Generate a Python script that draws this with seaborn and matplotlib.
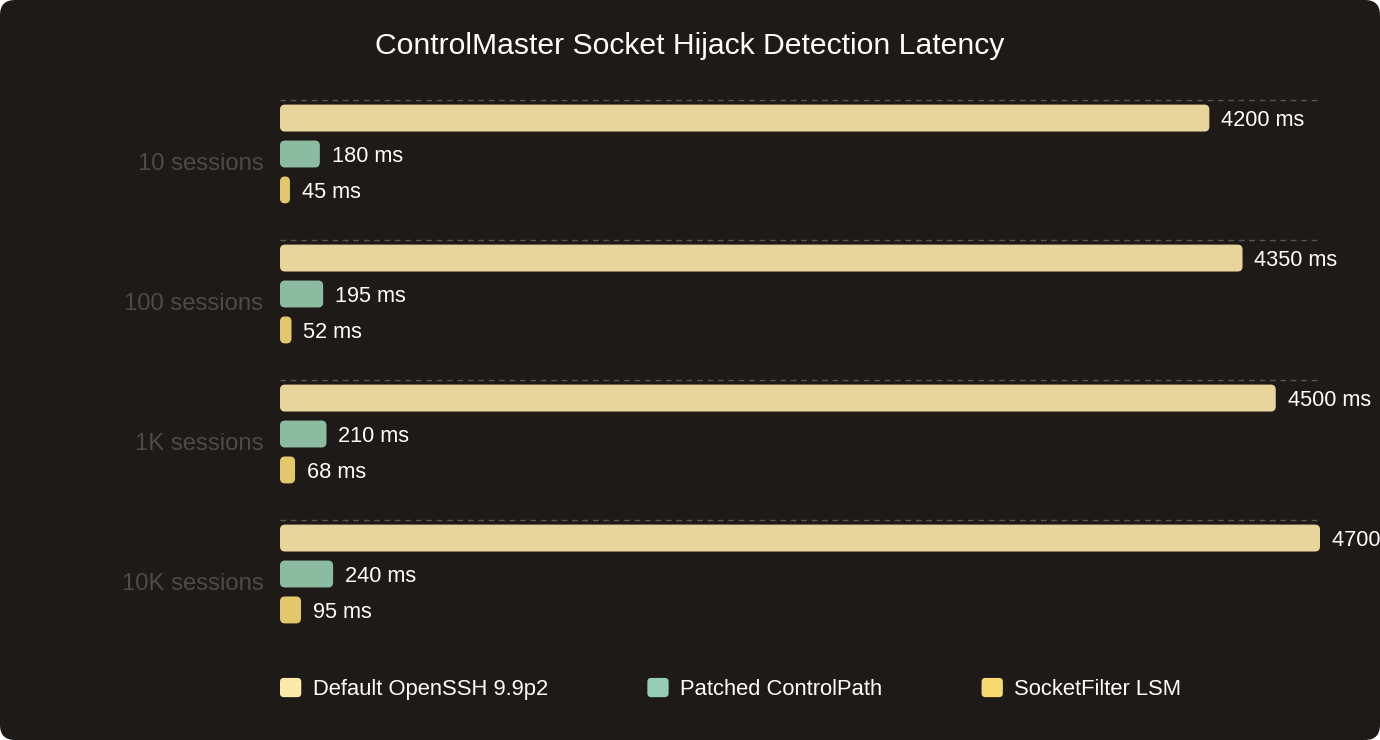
import matplotlib.pyplot as plt
import seaborn as sns
import pandas as pd
from matplotlib.patches import FancyBboxPatch
from matplotlib.legend_handler import HandlerPatch
from matplotlib.transforms import ScaledTranslation, IdentityTransform

categories = ['10 sessions', '100 sessions', '1K sessions', '10K sessions']
series = ['Default OpenSSH 9.9p2', 'Patched ControlPath', 'SocketFilter LSM']
default_ms = [4200, 4350, 4500, 4700]
patched_ms = [180, 195, 210, 240]
lsm_ms = [45, 52, 68, 95]

bar_colors = ['#e8d59b', '#8bbca2', '#e2c86a']
legend_colors = ['#fde9a9', '#97cdb4', '#f6d96f']
bg = '#1e1a17'

df = pd.DataFrame({
    'session': categories * 3,
    'series': [s for s in series for _ in categories],
    'ms': default_ms + patched_ms + lsm_ms,
})

sns.set_theme(style='dark')
plt.rcParams['font.family'] = ['Liberation Sans', 'DejaVu Sans']

fig = plt.figure(figsize=(13.8, 7.4), dpi=100)
fig.patch.set_facecolor('white')
fig.patches.append(FancyBboxPatch((0, 0), 1380, 740, boxstyle='round,pad=0,rounding_size=15',
                                  transform=IdentityTransform(), facecolor=bg, edgecolor='none',
                                  figure=fig, zorder=-10))

ax = fig.add_axes([280 / 1380, 96 / 740, 1040 / 1380, 560 / 740])
ax.set_facecolor('none')

sns.barplot(data=df, y='session', x='ms', hue='series', order=categories, hue_order=series,
            palette=bar_colors, saturation=1, orient='h', width=0.77, gap=0.25,
            legend=False, ax=ax)

ax.set_xlim(0, 4700)
ax.set_ylim(3.5, -0.5)

for cont in ax.containers:
    texts = ax.bar_label(cont, labels=[f'{v:.0f} ms' for v in cont.datavalues], padding=8.5,
                         color='white', fontsize=15.7, clip_on=False)
    for t in texts:
        dx, dy = t.xyann
        t.xyann = (dx, dy - 1.6)

# rounded bars
x_per_px = 4700 / 1040
y_per_px = 1 / 140
r = 5 * x_per_px
for p in list(ax.patches):
    x, y = p.get_x(), p.get_y()
    w, h = p.get_width(), p.get_height()
    rr = min(r, w / 2)
    ax.add_patch(FancyBboxPatch((x, y), w, h, boxstyle=f'round,pad=0,rounding_size={rr}',
                                mutation_aspect=y_per_px / x_per_px,
                                facecolor=p.get_facecolor(), edgecolor='none', zorder=3))
    p.remove()

# dashed grid lines above each group
for i in range(len(categories)):
    ax.axhline(i - 0.386, xmin=0, xmax=1, color='#5a5652', linestyle=(0, (4, 3.5)),
               linewidth=1, zorder=1)

ax.set_xticks([])
ax.set_yticks(range(len(categories)))
ax.set_yticklabels(categories, fontsize=17.2, color='#4e4a46')
ax.tick_params(axis='y', length=0, pad=12)
off = ScaledTranslation(0, -8 / 100, fig.dpi_scale_trans)
for lab in ax.get_yticklabels():
    lab.set_transform(lab.get_transform() + off)
ax.set_xlabel('')
ax.set_ylabel('')
for s in ax.spines.values():
    s.set_visible(False)

fig.text(690 / 1380, 1 - 46 / 740, 'ControlMaster Socket Hijack Detection Latency',
         ha='center', va='center', color='white', fontsize=21.7)


class RoundHandler(HandlerPatch):
    def create_artists(self, legend, orig_handle, xdescent, ydescent, width, height, fontsize, trans):
        p = FancyBboxPatch((-xdescent, -ydescent), width, height,
                           boxstyle=f'round,pad=0,rounding_size={width * 0.18}',
                           facecolor=orig_handle.get_facecolor(), edgecolor='none', transform=trans)
        return [p]


handles = [FancyBboxPatch((0, 0), 1, 1, facecolor=c) for c in legend_colors]
leg = fig.legend(handles, series, handler_map={FancyBboxPatch: RoundHandler()},
                 loc='center left', bbox_to_anchor=(280 / 1380, 1 - 689 / 740), ncol=3,
                 frameon=False, fontsize=15.8, labelcolor='white', borderpad=0, borderaxespad=0,
                 handlelength=0.97, handleheight=0.97, handletextpad=0.52, columnspacing=4.53)

fig.savefig('out.png', dpi=100, facecolor=fig.get_facecolor())
